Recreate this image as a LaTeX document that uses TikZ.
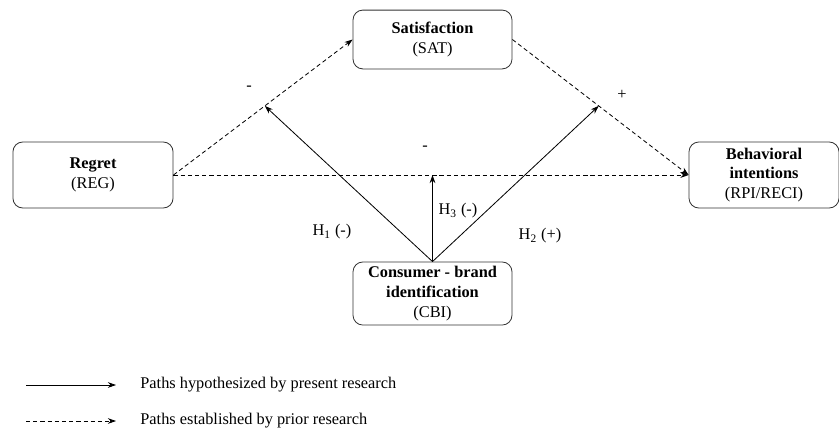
\documentclass[tikz,border=0pt]{standalone}
\usepackage{fontspec}
\setmainfont{Liberation Serif}
\usetikzlibrary{arrows.meta,calc}

\begin{document}
\begin{tikzpicture}[x=0.612pt, y=-0.612pt, line width=0.5pt,
		box/.style={draw=black!80, rounded corners=6pt, align=center, inner sep=0pt,
			font=\fontsize{10}{12.2}\selectfont},
		hyp/.style={-{Stealth[length=5pt,width=3.5pt]}},
		est/.style={hyp, dash pattern=on 2.6pt off 1.8pt},
		lbl/.style={inner sep=0pt, font=\fontsize{10}{12}\selectfont}]

		\useasboundingbox (0,0) rectangle (839,429);

		% constructs
		\node[box, minimum width=97.3pt, minimum height=36pt] (sat) at (432.5,39.5) {\textbf{Satisfaction}\\(SAT)};
		\node[box, minimum width=98pt, minimum height=40.4pt] (reg) at (93,175) {\textbf{Regret}\\(REG)};
		\node[box, minimum width=91.8pt, minimum height=40.4pt] (bi) at (764,175) {\textbf{Behavioral}\\\textbf{intentions}\\(RPI/RECI)};
		\node[box, minimum width=97.3pt, minimum height=38.6pt] (cbi) at (432.5,293.5) {\textbf{Consumer - brand}\\\textbf{identification}\\(CBI)};

		% paths from prior research
		\draw[est] (reg.east) -- (sat.west);
		\draw[est] (sat.east) -- (bi.west);
		\draw[est] (reg.east) -- (bi.west);

		\coordinate (m1) at ($(reg.east)!0.51!(sat.west)$);
		\coordinate (m2) at ($(sat.east)!0.49!(bi.west)$);
		\coordinate (m3) at ($(reg.east)!(cbi.north)!(bi.west)$);

		% moderating paths
		\draw[hyp] (cbi.north) -- (m1);
		\draw[hyp] (cbi.north) -- (m2);
		\draw[hyp] (cbi.north) -- (m3);

		\node[lbl] (s1) at (249,88) {-};
		\node[lbl] (s2) at (622,95) {+};
		\node[lbl] (s3) at (425,148) {-};
		\node[lbl] (h1) at (332,232) {H\textsubscript{1} (-)};
		\node[lbl] (h3) at (458,211) {H\textsubscript{3} (-)};
		\node[lbl] (h2) at (540,236) {H\textsubscript{2} (+)};

		% legend
		\coordinate (l1a) at (26,385);
		\coordinate (l1b) at (116,385);
		\coordinate (l2a) at (26,421);
		\coordinate (l2b) at (116,421);
		\draw[hyp] (l1a) -- (l1b);
		\draw[est] (l2a) -- (l2b);
		\node[lbl, anchor=west] (t1) at (140,385) {Paths hypothesized by present research};
		\node[lbl, anchor=west] (t2) at (140,421) {Paths established by prior research};
	\end{tikzpicture}
\end{document}
